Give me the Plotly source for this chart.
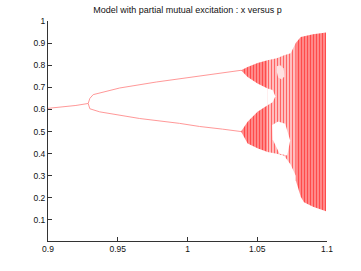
import plotly.graph_objects as go

# ---- data ----
# stable fixed point (period 1)
p_fixed = [0.900, 0.910, 0.920, 0.9288]
x_fixed = [0.605, 0.611, 0.618, 0.627]

# period-2 branches
p_upper = [0.9288, 0.9300, 0.9324, 0.9514, 0.9776, 1.0086, 1.0250, 1.0384]
x_upper = [0.627, 0.650, 0.667, 0.697, 0.724, 0.752, 0.765, 0.777]
p_lower = [0.9288, 0.9300, 0.9371, 0.9657, 0.9943, 1.0086, 1.0250, 1.0384]
x_lower = [0.627, 0.603, 0.589, 0.559, 0.537, 0.523, 0.511, 0.500]

# chaotic bands: outline (p, x) going along top edge then back along bottom edge
band_up_p = [1.0384, 1.0431, 1.0502, 1.0574, 1.0574, 1.0502, 1.0431, 1.0384]
band_up_x = [0.777, 0.792, 0.810, 0.822, 0.695, 0.717, 0.747, 0.777]
band_lo_p = [1.0384, 1.0431, 1.0502, 1.0574, 1.0574, 1.0502, 1.0431, 1.0384]
band_lo_x = [0.500, 0.544, 0.589, 0.619, 0.408, 0.424, 0.446, 0.500]

mixed_p = [1.0574, 1.0640, 1.0693, 1.0740, 1.0776, 1.0776, 1.0740, 1.0693, 1.0640, 1.0574]
mixed_x = [0.822, 0.832, 0.845, 0.854, 0.900, 0.300, 0.350, 0.390, 0.400, 0.408]

window_p = [1.0607, 1.0650, 1.0700, 1.0736, 1.0715, 1.0660, 1.0610]
window_x = [0.530, 0.545, 0.535, 0.460, 0.392, 0.400, 0.465]

window2_p = [1.0640, 1.0665, 1.0690, 1.0695, 1.0675, 1.0650, 1.0640]
window2_x = [0.795, 0.800, 0.785, 0.750, 0.735, 0.745, 0.770]

gap_p = [1.0574, 1.0610, 1.0630, 1.0610, 1.0574]
gap_x = [0.695, 0.688, 0.660, 0.632, 0.619]

chaos_p = [1.0776, 1.0812, 1.0900, 1.0993, 1.0993, 1.0900, 1.0835, 1.0812, 1.0776]
chaos_x = [0.900, 0.928, 0.940, 0.948, 0.140, 0.160, 0.180, 0.205, 0.280]

x_ticks = [0.9, 0.95, 1.0, 1.05, 1.1]
x_tick_text = ["0.9", "0.95", "1", "1.05", "1.1"]
y_ticks = [0.1, 0.2, 0.3, 0.4, 0.5, 0.6, 0.7, 0.8, 0.9, 1.0]
y_tick_text = ["0.1", "0.2", "0.3", "0.4", "0.5", "0.6", "0.7", "0.8", "0.9", "1"]

title_text = "Model with partial mutual excitation : x versus p"

# ---- figure ----
fig = go.Figure()
line_col = "rgb(255,140,140)"
for px_, xx_ in [(p_fixed, x_fixed), (p_upper, x_upper), (p_lower, x_lower)]:
    fig.add_trace(go.Scatter(x=px_, y=xx_, mode="lines",
                             line=dict(color=line_col, width=0.9), hoverinfo="skip"))

dense = dict(shape="|", fgcolor="rgb(255,0,0)", bgcolor="rgb(255,150,150)", size=3, solidity=0.45)
light = dict(shape="|", fgcolor="rgb(255,0,0)", bgcolor="rgb(255,200,200)", size=3, solidity=0.4)

for pp, xx, pat in [(band_up_p, band_up_x, dense), (band_lo_p, band_lo_x, dense),
                    (mixed_p, mixed_x, light), (chaos_p, chaos_x, dense)]:
    fig.add_trace(go.Scatter(x=pp, y=xx, mode="lines", fill="toself",
                             line=dict(width=0, color="rgba(0,0,0,0)"),
                             fillcolor="rgb(255,150,150)", fillpattern=pat,
                             hoverinfo="skip"))

for pp, xx, col in [(window_p, window_x, "white"), (window2_p, window2_x, "rgb(255,225,225)"),
                    (gap_p, gap_x, "white")]:
    fig.add_trace(go.Scatter(x=pp, y=xx, mode="lines", fill="toself",
                             line=dict(width=0, color="rgba(0,0,0,0)"),
                             fillcolor=col, hoverinfo="skip"))

axis_common = dict(showgrid=False, zeroline=False, showline=True, linecolor="#333",
                   linewidth=1, ticks="inside", ticklen=4, tickcolor="#333",
                   tickfont=dict(family="Liberation Sans, Arial, sans-serif", size=8.5, color="#111"))

fig.update_layout(
    width=361, height=271,
    margin=dict(l=48, r=34, t=21, b=30),
    paper_bgcolor="white", plot_bgcolor="white",
    showlegend=False,
    title=dict(text=title_text, x=187.5 / 361, xanchor="center",
               y=1 - 10 / 271, yanchor="middle", yref="container",
               font=dict(family="Liberation Sans, Arial, sans-serif", size=9, color="#111")),
    xaxis=dict(range=[0.9, 1.1], tickvals=x_ticks, ticktext=x_tick_text, **axis_common),
    yaxis=dict(range=[0.005, 1.0], tickvals=y_ticks, ticktext=y_tick_text, **axis_common),
)

fig.write_html("out.html", config={"displayModeBar": False},
               post_script="document.body.style.margin='0';document.body.style.overflow='hidden';")
